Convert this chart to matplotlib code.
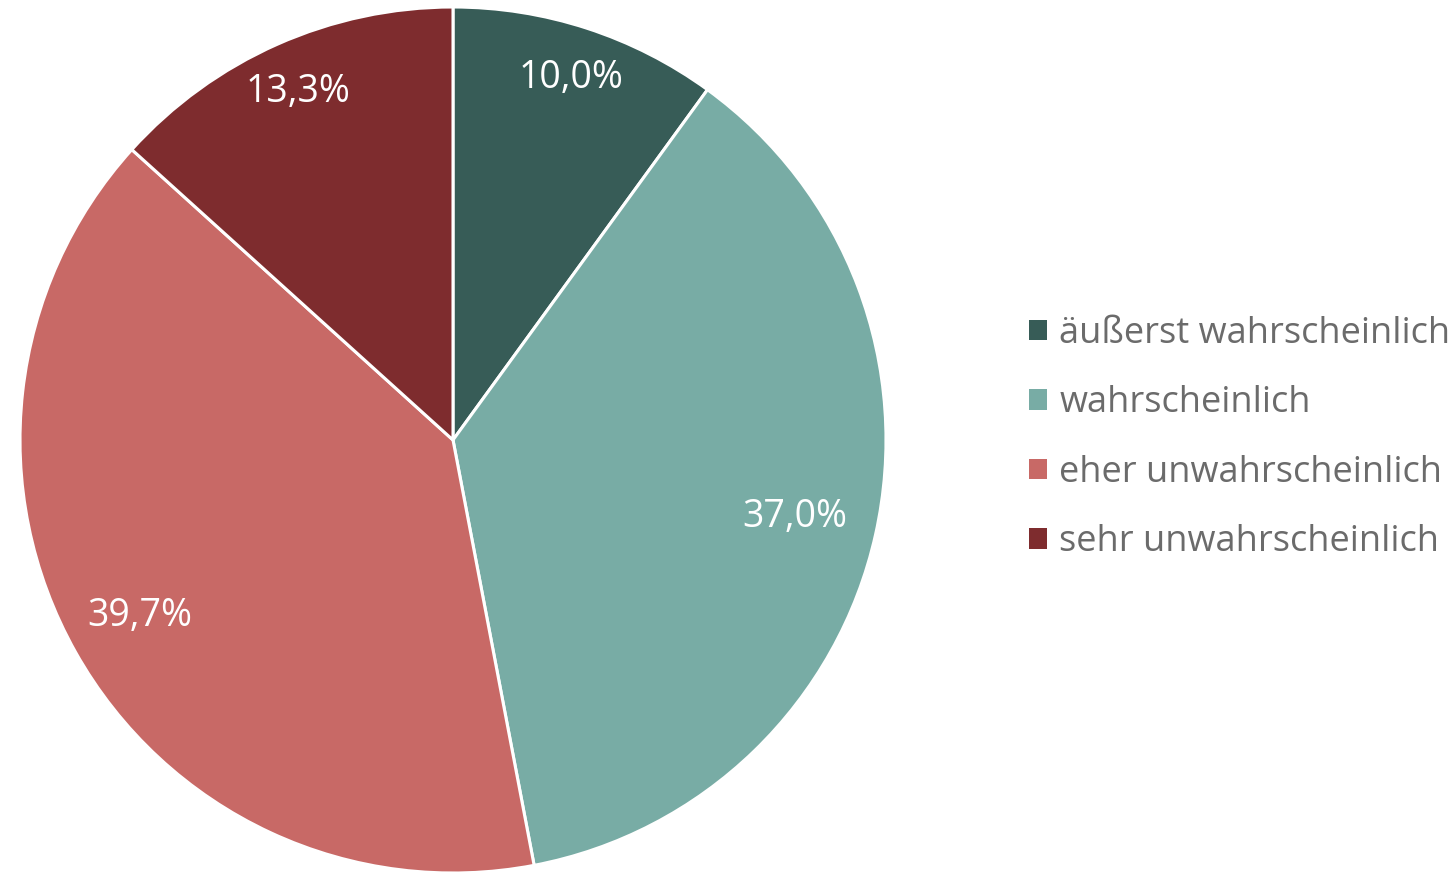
import matplotlib
matplotlib.use("Agg")
import matplotlib.pyplot as plt
import numpy as np

categories = ["äußerst wahrscheinlich", "wahrscheinlich", "eher unwahrscheinlich", "sehr unwahrscheinlich"]
values = [10.0, 37.0, 39.7, 13.3]
labels = ["10,0%", "37,0%", "39,7%", "13,3%"]
colors = ["#375C57", "#78ACA5", "#C86966", "#7E2C2E"]
label_dist = [0.88, 0.81, 0.83, 0.88]

plt.rcParams['font.family'] = ['Open Sans', 'DejaVu Sans']

fig = plt.figure(figsize=(14.55, 8.73), dpi=100)
cx, cy, r = 453, 440, 433
W, H = 1455, 873
ax = fig.add_axes([(cx - r) / W, (H - cy - r) / H, 2 * r / W, 2 * r / H])

wedges, _ = ax.pie(values, colors=colors, startangle=90, counterclock=False,
                   wedgeprops=dict(edgecolor="white", linewidth=2.2), radius=1)
for w, lab, d in zip(wedges, labels, label_dist):
    ang = np.deg2rad((w.theta1 + w.theta2) / 2)
    ax.text(d * np.cos(ang), d * np.sin(ang), lab, ha="center", va="center",
            color="white", fontsize=27)
ax.set_xlim(-1, 1)
ax.set_ylim(-1, 1)
ax.set_aspect("equal")

leg = fig.legend(wedges, categories, loc="center left", bbox_to_anchor=(996 / W, 1 - 438 / H),
                 frameon=False, fontsize=26, handlelength=0.5, handleheight=0.5,
                 handletextpad=0.35, labelspacing=0.93, labelcolor="#6B6B6B")
for h in leg.legend_handles:
    h.set_edgecolor("none")

fig.savefig("out.png", dpi=100)
